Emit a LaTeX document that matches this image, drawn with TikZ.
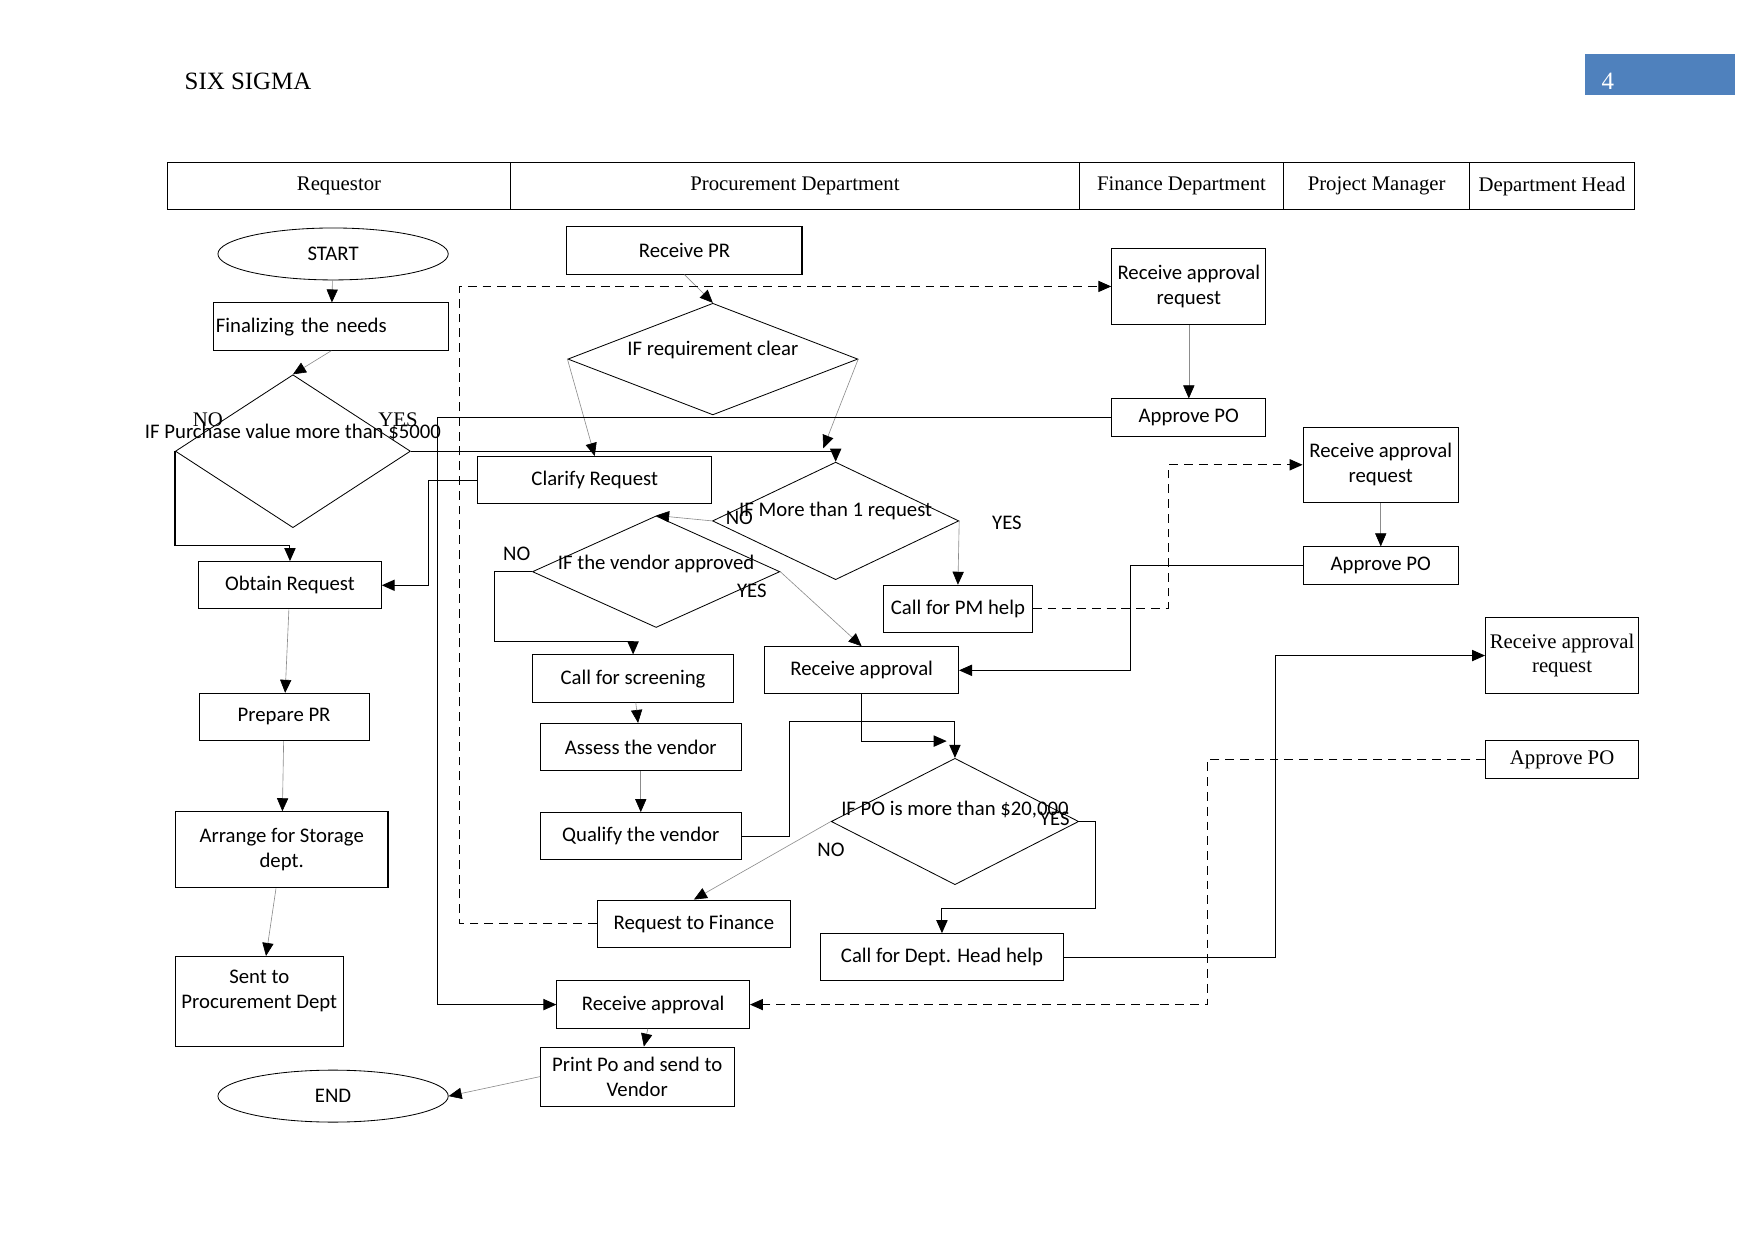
\documentclass[tikz,border=0pt]{standalone}
\usepackage{fontspec}
\setmainfont{Liberation Serif}
\newfontfamily\flowfont{Carlito}
\usetikzlibrary{shapes.geometric,arrows.meta,positioning}
\definecolor{pageblue}{RGB}{79,129,189}
\begin{document}
\begin{tikzpicture}[
  lane/.style={draw, line width=0.5pt, outer sep=0pt, minimum height=0.81cm, font=\fontsize{10}{12}\selectfont},
  box/.style={draw, line width=0.5pt, align=center, inner sep=1pt, minimum height=0.8cm, font=\flowfont\fontsize{10}{12}\selectfont},
  serifbox/.style={box, font=\fontsize{10}{12}\selectfont},
  terminal/.style={draw, ellipse, line width=0.4pt, minimum width=3.9cm, minimum height=0.88cm, font=\flowfont\fontsize{10}{12}\selectfont},
  decision/.style={draw, diamond, line width=0.4pt, inner sep=0pt},
  dtext/.style={font=\flowfont\fontsize{10}{12}\selectfont},
  answer/.style={font=\flowfont\fontsize{10}{12}\selectfont, inner sep=0pt},
  headtip/.style={-{Triangle[length=2.2mm, width=1.9mm, color=black]}},
  arrow/.style={headtip, draw=black!45, line width=0.3pt},
  link/.style={headtip, line width=0.5pt},
  dlink/.style={headtip, line width=0.5pt, dash pattern=on 0.15cm off 0.1cm}
]
\useasboundingbox (0,0) rectangle (29.7,-21);
\node[anchor=west, inner sep=0pt, font=\fontsize{12}{14}\selectfont] (title) at (3.12,-1.38) {SIX SIGMA};
\node[fill=pageblue, minimum width=2.54cm, minimum height=0.70cm, label={[text=white, font=\fontsize{12}{14}\selectfont, inner sep=0pt, anchor=west, xshift=0.28cm, yshift=-0.12cm]west:4}] (page) at (28.11,-1.26) {};

\node[lane, minimum width=5.80cm] (lreq) at (5.74,-3.15) {Requestor};
\node[lane, minimum width=9.64cm, right=0pt of lreq] (lproc) {Procurement Department};
\node[lane, minimum width=3.45cm, right=0pt of lproc] (lfin) {Finance Department};
\node[lane, minimum width=3.16cm, right=0pt of lfin] (lpm) {Project Manager};
\node[lane, minimum width=2.78cm, right=0pt of lpm] (lhead) {Department Head};

\node[terminal] (start) at (5.64,-4.30) {START};
\node[box, text width=3.91cm, align=left] (needs) at (5.61,-5.53) {Finalizing the needs};
\node[decision, minimum width=3.98cm, minimum height=2.59cm, label={[dtext, yshift=0.31cm]center:IF Purchase value more than \$5000}] (dval) at (4.96,-7.64) {};
\node[box, minimum width=3.09cm] (obtain) at (4.91,-9.91) {Obtain Request};
\node[box, minimum width=2.88cm] (prepare) at (4.81,-12.14) {Prepare PR};
\node[box, minimum width=3.60cm, minimum height=1.29cm] (arrange) at (4.77,-14.39) {Arrange for Storage\\dept.};
\node[box, minimum width=2.84cm, minimum height=1.53cm] (sent) at (4.39,-16.96) {Sent to\\Procurement Dept\\\mbox{}};
\node[terminal] (finish) at (5.64,-18.56) {END};
\node[font=\fontsize{10}{12}\selectfont, inner sep=0pt] (no1) at (3.52,-7.10) {NO};
\node[font=\fontsize{10}{12}\selectfont, inner sep=0pt] (yes1) at (6.74,-7.10) {YES};

\node[box, minimum width=3.98cm] (recpr) at (11.59,-4.24) {Receive PR};
\node[decision, minimum width=4.91cm, minimum height=1.89cm, label={[dtext, yshift=0.15cm]center:IF requirement clear}] (dreq) at (12.07,-6.08) {};
\node[box, minimum width=3.96cm] (clarify) at (10.07,-8.13) {Clarify Request};
\node[decision, minimum width=4.17cm, minimum height=1.99cm, label={[dtext, yshift=0.16cm]center:IF More than 1 request}] (dmore) at (14.15,-8.82) {};
\node[decision, minimum width=4.19cm, minimum height=1.89cm, label={[dtext, yshift=0.13cm]center:IF the vendor approved}] (dvend) at (11.11,-9.68) {};
\node[box, minimum width=2.52cm] (pmhelp) at (16.22,-10.31) {Call for PM help};
\node[box, minimum width=3.41cm] (screen) at (10.72,-11.49) {Call for screening};
\node[box, minimum width=3.28cm] (recv1) at (14.59,-11.35) {Receive approval};
\node[box, minimum width=3.41cm] (assess) at (10.85,-12.65) {Assess the vendor};
\node[box, minimum width=3.41cm] (qualify) at (10.85,-14.16) {Qualify the vendor};
\node[decision, minimum width=4.19cm, minimum height=2.14cm, label={[dtext, yshift=0.20cm]center:{IF PO is more than \$20,000}}] (dpo) at (16.17,-13.91) {};
\node[box, minimum width=3.28cm] (tofin) at (11.75,-15.64) {Request to Finance};
\node[box, minimum width=4.13cm] (dhhelp) at (15.95,-16.21) {Call for Dept. Head help};
\node[box, minimum width=3.26cm] (recv2) at (11.06,-17.01) {Receive approval};
\node[box, minimum width=3.28cm, minimum height=1.0cm] (printpo) at (10.79,-18.23) {Print Po and send to\\Vendor};
\node[answer] (no2) at (12.52,-8.77) {NO};
\node[answer] (yes2) at (17.05,-8.86) {YES};
\node[answer] (no3) at (8.75,-9.38) {NO};
\node[answer] (yes3) at (12.73,-10.00) {YES};
\node[answer] (no4) at (14.07,-14.39) {NO};
\node[answer] (yes4) at (17.86,-13.86) {YES};

\node[box, minimum width=2.61cm, minimum height=1.29cm] (freq) at (20.13,-4.85) {Receive approval\\request};
\node[box, minimum width=2.61cm, minimum height=0.63cm] (fapprove) at (20.13,-7.07) {Approve PO};
\node[box, minimum width=2.63cm, minimum height=1.27cm] (preq) at (23.38,-7.87) {Receive approval\\request};
\node[box, minimum width=2.63cm, minimum height=0.64cm] (papprove) at (23.38,-9.58) {Approve PO};
\node[serifbox, minimum width=2.59cm, minimum height=1.29cm] (hreq) at (26.45,-11.10) {Receive approval\\request};
\node[serifbox, minimum width=2.59cm, minimum height=0.64cm] (happrove) at (26.45,-12.86) {Approve PO};

\coordinate (mtop) at (13.94,-7.59);

\draw[arrow] (start) -- (needs);
\draw[arrow] (needs.south) -- (dval.north);
\draw[link] (dval.west) -- ++(0,-1.59) -| (obtain.north);
\draw[link] (dval.east) -| (dmore.north);
\draw[arrow] (obtain) -- (prepare);
\draw[arrow] (prepare) -- (arrange);
\draw[arrow] (arrange) -- (sent);
\draw[arrow] (recpr.south) -- (dreq.north);
\draw[arrow] (dreq.west) -- (clarify.north);
\draw[arrow] (dreq.east) -- (mtop);
\draw[link] (clarify.west) -- ++(-0.82,0) |- (obtain.east);
\draw[link] (fapprove.west) -- ++(-11.41,0) |- (recv2.west);
\draw[dlink] (tofin.west) -- ++(-2.32,0) |- (freq.west);
\draw[arrow] (freq) -- (fapprove);
\draw[arrow] (dmore.west) -- (dvend.north);
\draw[arrow] (dmore.east) -- (pmhelp.north);
\draw[dlink] (pmhelp.east) -- ++(2.29,0) |- (preq.west);
\draw[arrow] (preq) -- (papprove);
\draw[link] (papprove.west) -- ++(-2.91,0) |- (recv1.east);
\draw[link] (dvend.west) -- ++(-0.63,0) -- ++(0,-1.19) -| (screen.north);
\draw[arrow] (dvend.east) -- (recv1.north);
\draw[arrow] (screen) -- (assess);
\draw[arrow] (assess) -- (qualify);
\draw[link] (qualify.east) -- ++(0.80,0) -- ++(0,1.94) -| (dpo.north);
\draw[link] (recv1.south) -- ++(0,-0.79) -- ++(1.44,0);
\draw[arrow] (dpo.west) -- (tofin.north);
\draw[link] (dpo.east) -- ++(0.28,0) -- ++(0,-1.47) -| (dhhelp.north);
\draw[link] (dhhelp.east) -- ++(3.58,0) |- (hreq.west);
\draw[dlink] (happrove.west) -- ++(-4.70,0) |- (recv2.east);
\draw[arrow] (recv2) -- (printpo);
\draw[arrow] (printpo.west) -- (finish.east);
\end{tikzpicture}
\end{document}
